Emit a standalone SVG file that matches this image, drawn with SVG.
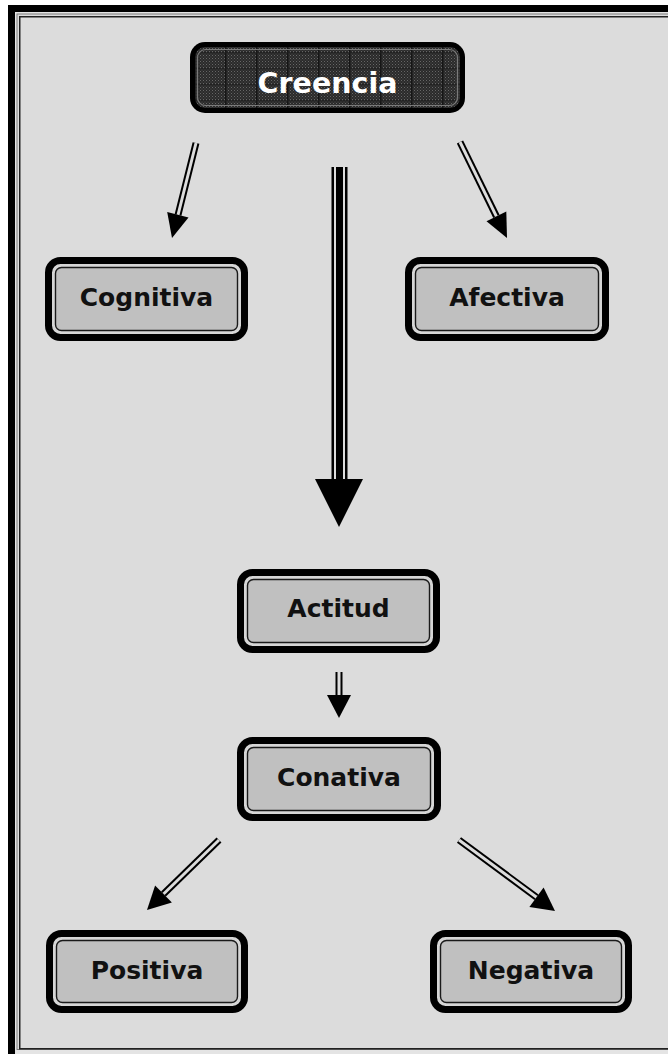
<svg xmlns="http://www.w3.org/2000/svg" width="668" height="1054" viewBox="0 0 668 1054">
<defs>
<pattern id="dots" width="3" height="3" patternUnits="userSpaceOnUse">
<rect width="3" height="3" fill="#2a2a2a"/>
<rect x="0" y="0" width="1" height="1" fill="#666"/>
<rect x="1.5" y="1.5" width="1" height="1" fill="#505050"/>
</pattern>
<pattern id="grid" x="8" y="4" width="31" height="16" patternUnits="userSpaceOnUse">
<rect width="31" height="16" fill="url(#dots)"/>
<line x1="0.75" y1="0" x2="0.75" y2="16" stroke="#151515" stroke-width="1.5"/>
<line x1="0" y1="0.75" x2="31" y2="0.75" stroke="#1e1e1e" stroke-width="1"/>
</pattern>
<style>
.lbl{font-family:"DejaVu Sans",Verdana,"Liberation Sans",sans-serif;font-weight:bold;font-size:25px;fill:#111;text-anchor:middle}
.top{font-size:28.5px;fill:#fff}
.out{fill:#d6d6d6;stroke:#000;stroke-width:7}
.in{fill:#c0c0c0;stroke:#1a1a1a;stroke-width:1.4}
.sk{stroke:#000;stroke-width:7;fill:none}
.gap{stroke:#dcdcdc;stroke-width:3;fill:none}
.head{fill:#000}
</style>
</defs>
<rect width="668" height="1054" fill="#fff"/>
<rect x="8" y="5" width="660" height="1049" fill="#e4e4e4"/>
<rect x="8" y="5" width="660" height="7" fill="#000"/>
<rect x="8" y="5" width="7" height="1049" fill="#000"/>
<rect x="17" y="14" width="660" height="1035.5" fill="#dcdcdc" stroke="#7a7a7a" stroke-width="1"/>
<rect x="19.75" y="16.75" width="660" height="1032" fill="none" stroke="#222" stroke-width="1.5"/>

<g id="connectors">
<g id="e-creencia-cognitiva">
<line class="sk" x1="196" y1="143" x2="178" y2="215"/>
<line class="gap" x1="196" y1="143" x2="178" y2="215"/>
<polygon class="head" points="172,238 188.5,217.4 167.2,212"/>
</g>
<g id="e-creencia-afectiva">
<line class="sk" x1="460" y1="142" x2="496.4" y2="216.4"/>
<line class="gap" x1="460" y1="142" x2="496.4" y2="216.4"/>
<polygon class="head" points="507,238 506.3,211.6 486.5,221.2"/>
</g>
<g id="e-creencia-actitud">
<line x1="339.5" y1="167" x2="339.5" y2="482" stroke="#000" stroke-width="16"/>
<line x1="339.5" y1="167" x2="339.5" y2="482" stroke="#dcdcdc" stroke-width="11"/>
<line x1="339.5" y1="167" x2="339.5" y2="482" stroke="#000" stroke-width="7"/>
<polygon class="head" points="315,479 363,479 339,527"/>
</g>
<g id="e-actitud-conativa">
<line class="sk" x1="339" y1="672" x2="339" y2="697"/>
<line class="gap" x1="339" y1="672" x2="339" y2="697"/>
<polygon class="head" points="327,695 351,695 339,718"/>
</g>
<g id="e-conativa-positiva">
<line class="sk" x1="219" y1="840" x2="163.5" y2="894"/>
<line class="gap" x1="219" y1="840" x2="163.5" y2="894"/>
<polygon class="head" points="147,910 171.9,902.6 155.1,885.4"/>
</g>
<g id="e-conativa-negativa">
<line class="sk" x1="459" y1="840" x2="536.5" y2="897.3"/>
<line class="gap" x1="459" y1="840" x2="536.5" y2="897.3"/>
<polygon class="head" points="555,911 543.6,887.6 529.4,907"/>
</g>
</g>

<g id="creencia">
<rect x="190" y="42" width="275" height="71" rx="15" fill="#000"/>
<rect x="195" y="47" width="265" height="61" rx="10" fill="url(#grid)"/>
<rect x="197.5" y="49.5" width="260" height="56" rx="8" fill="none" stroke="#7a7a7a" stroke-width="1.2"/>
<text class="lbl top" x="327.5" y="93">Creencia</text>
</g>

<g id="cognitiva">
<rect class="out" x="48.5" y="260.5" width="196" height="77" rx="12"/>
<rect class="in" x="55.5" y="267.5" width="182" height="63" rx="6"/>
<text class="lbl" x="146.5" y="306">Cognitiva</text>
</g>

<g id="afectiva">
<rect class="out" x="408.5" y="260.5" width="197" height="77" rx="12"/>
<rect class="in" x="415.5" y="267.5" width="183" height="63" rx="6"/>
<text class="lbl" x="507" y="306">Afectiva</text>
</g>

<g id="actitud">
<rect class="out" x="240.5" y="572.5" width="196" height="77" rx="12"/>
<rect class="in" x="247.5" y="579.5" width="182" height="63" rx="6"/>
<text class="lbl" x="338.5" y="617">Actitud</text>
</g>

<g id="conativa">
<rect class="out" x="240.5" y="740.5" width="197" height="77" rx="12"/>
<rect class="in" x="247.5" y="747.5" width="183" height="63" rx="6"/>
<text class="lbl" x="339" y="786">Conativa</text>
</g>

<g id="positiva">
<rect class="out" x="49.5" y="933.5" width="195" height="76" rx="12"/>
<rect class="in" x="56.5" y="940.5" width="181" height="62" rx="6"/>
<text class="lbl" x="147" y="979">Positiva</text>
</g>

<g id="negativa">
<rect class="out" x="433.5" y="933.5" width="195" height="76" rx="12"/>
<rect class="in" x="440.5" y="940.5" width="181" height="62" rx="6"/>
<text class="lbl" x="531" y="979">Negativa</text>
</g>
</svg>
